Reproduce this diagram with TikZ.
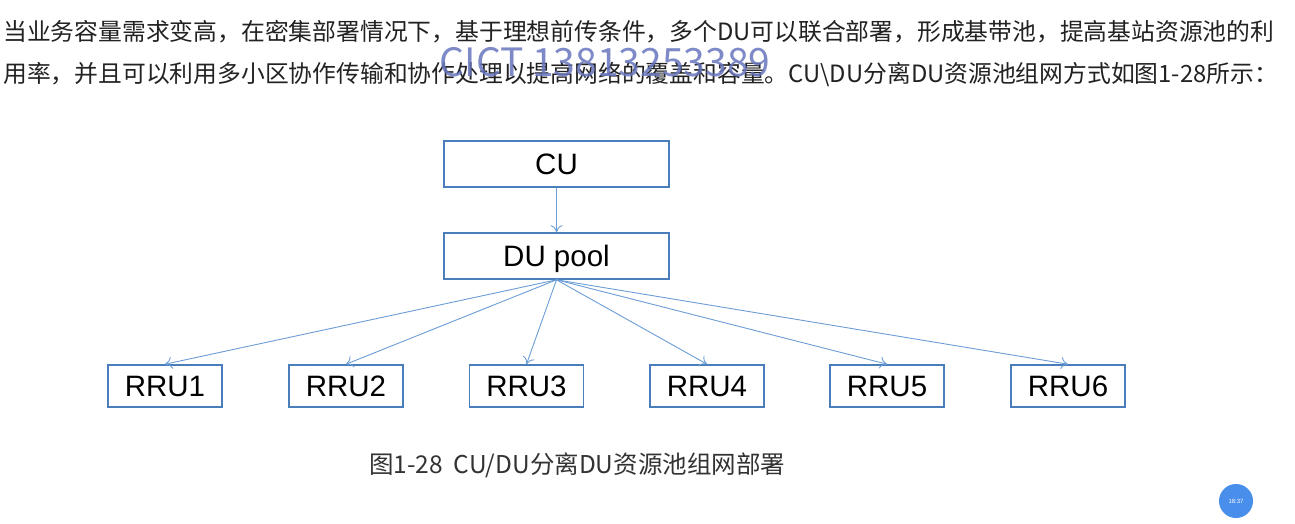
\documentclass[tikz,border=0pt]{standalone}
\usepackage{fontspec}
\setmainfont{Liberation Sans}
\newfontfamily\cjk{Noto Sans CJK SC}
\usepackage{xcolor}
\usepackage{tikz}
\usetikzlibrary{positioning, arrows.meta}

\definecolor{boxblue}{RGB}{74,126,187}
\definecolor{linkblue}{RGB}{108,158,214}
\definecolor{markblue}{RGB}{104,118,190}
\definecolor{textgray}{RGB}{34,34,34}
\definecolor{capgray}{RGB}{51,51,51}
\definecolor{dotblue}{RGB}{72,142,234}

\tikzset{
  unit/.style={draw=boxblue, line width=1.6pt, minimum width=225pt, minimum height=46pt, inner sep=0pt, text height=21pt, text depth=0pt, font=\fontsize{29.5}{32}\selectfont},
  rru/.style={unit, minimum width=114pt, minimum height=42pt},
  link/.style={-{To[length=7pt, width=12pt, line width=0.9pt]}, draw=linkblue, line width=0.9pt},
  para/.style={anchor=west, inner sep=0pt, text=textgray, font=\cjk\fontsize{23.8}{28}\selectfont},
}

\begin{document}
\begin{tikzpicture}[x=1pt, y=-1pt]
\useasboundingbox[fill=white] (0,0) rectangle (1295,524);

% text above the figure
\node[para] (line1) at (3,32) {当业务容量需求变高，在密集部署情况下，基于理想前传条件，多个DU可以联合部署，形成基带池，提高基站资源池的利};
\node[para] (line2) at (3,74) {用率，并且可以利用多小区协作传输和协作处理以提高网络的覆盖和容量。CU\textbackslash DU分离DU资源池组网方式如图1-28所示：};

% watermark
\node[text=markblue, opacity=0.85, inner sep=0pt, font=\cjk\fontsize{39}{42}\selectfont] (mark) at (605,62) {CICT 13813253389};

% the units
\node[unit] (CU) at (556.5,164) {CU};
\node[unit] (DU) at (556.5,256) {DU pool};

\node[rru] (RRU1) at (165,386) {RRU1};
\node[rru] (RRU2) at (346,386) {RRU2};
\node[rru] (RRU3) at (526.5,386) {RRU3};
\node[rru] (RRU4) at (707,386) {RRU4};
\node[rru] (RRU5) at (887,386) {RRU5};
\node[rru] (RRU6) at (1068,386) {RRU6};

\draw[link] (CU) -- (DU);
\draw[link] (DU.south) -- (RRU1.north);
\draw[link] (DU.south) -- (RRU2.north);
\draw[link] (DU.south) -- (RRU3.north);
\draw[link] (DU.south) -- (RRU4.north);
\draw[link] (DU.south) -- (RRU5.north);
\draw[link] (DU.south) -- (RRU6.north);

% caption
\node[text=capgray, inner sep=0pt, font=\cjk\fontsize{24.5}{28}\selectfont] (caption) at (577,465) {图1-28\ \ CU/DU分离DU资源池组网部署};

% clock badge
\node[circle, fill=dotblue, minimum size=34pt, inner sep=0pt, text=white, font=\fontsize{6}{7}\selectfont] (clock) at (1236,501) {18:37};

\end{tikzpicture}
\end{document}
